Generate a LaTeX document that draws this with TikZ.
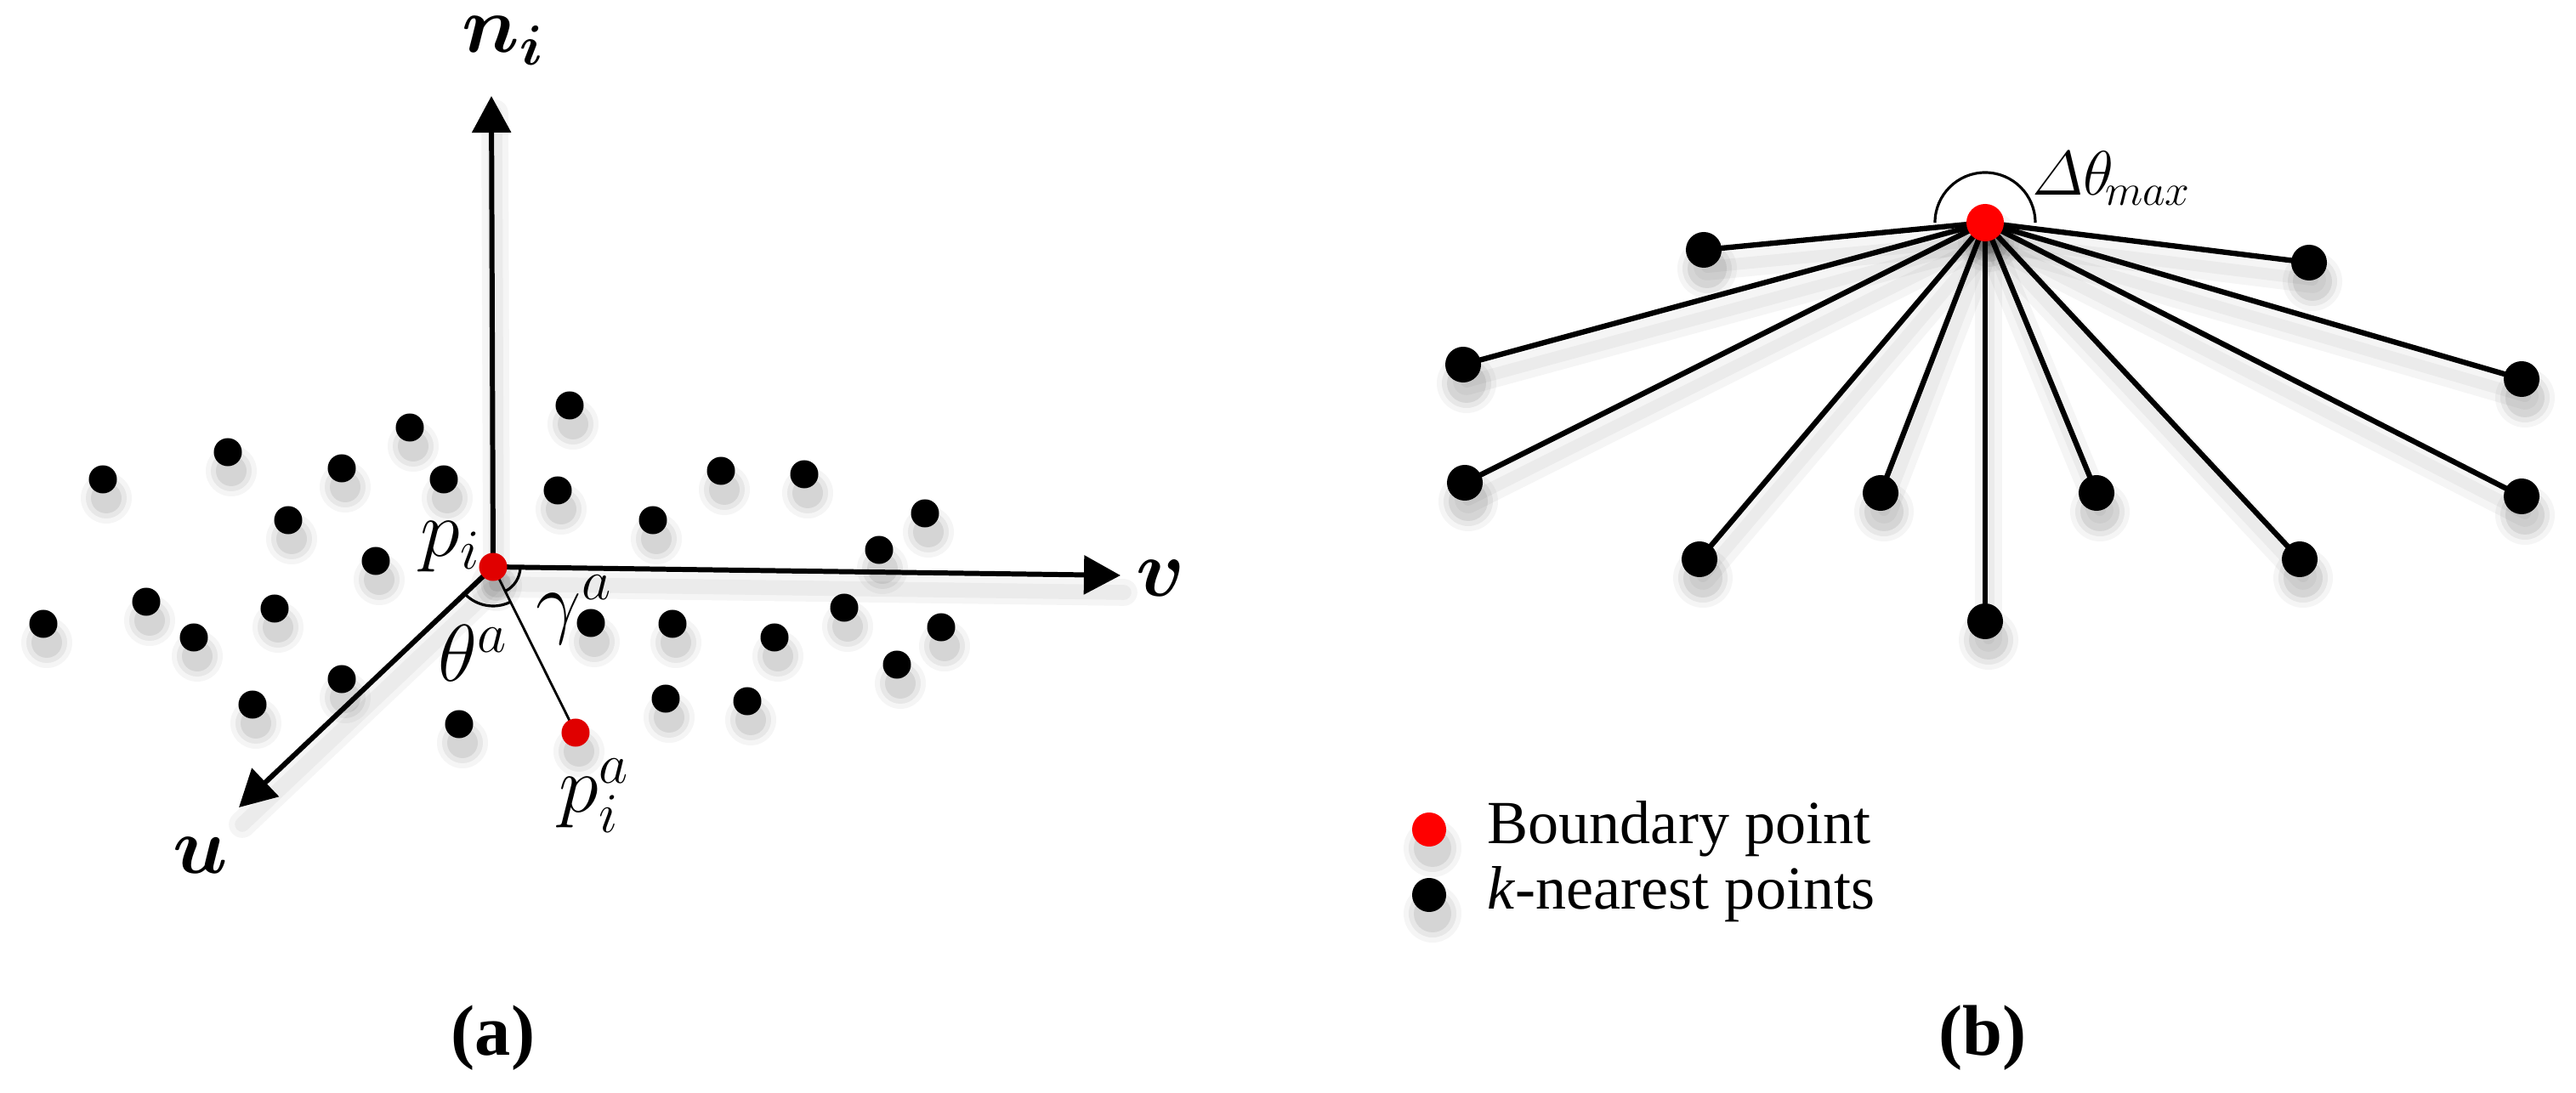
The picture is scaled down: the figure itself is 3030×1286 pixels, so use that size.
\RequirePackage{fix-cm}
\documentclass[tikz,border=0pt]{standalone}
\usepackage{amsmath}
\usepackage{bm}
\usepackage{fontspec}
\setmainfont{Liberation Serif}
\usetikzlibrary{arrows.meta}
\pgfdeclarelayer{shadow}
\pgfdeclarelayer{background}
\pgfsetlayers{shadow,background,main}
\definecolor{redA}{RGB}{224,0,0}
\definecolor{redB}{RGB}{255,0,0}
\newcommand\dotshadow[3]{%
  \fill[black,opacity=0.04] (#1+4,#2+22) circle[radius=#3+14];
  \fill[black,opacity=0.06] (#1+4,#2+22) circle[radius=#3+8];
  \fill[black,opacity=0.08] (#1+4,#2+22) circle[radius=#3+2];}
\tikzset{
  kdot/.style={circle,fill=black,inner sep=0pt,minimum size=0.33cm},
  kdotb/.style={circle,fill=black,inner sep=0pt,minimum size=0.42cm},
  rdot/.style={circle,fill=redA,inner sep=0pt,minimum size=0.33cm},
  rdotb/.style={circle,fill=redB,inner sep=0pt,minimum size=0.44cm},
  axis/.style={line width=1.7pt,-{Triangle[length=0.43cm,width=0.45cm]}},
  thinline/.style={line width=0.8pt},
  spoke/.style={line width=1.8pt},
  anglearc/.style={line width=0.9pt},
  lshadow/.style={black,opacity=0.04,line width=#1,line cap=round,transform canvas={shift={(4,20)}}},
  lab/.style={inner sep=0pt,font=\fontsize{27}{32}\selectfont},
  legtext/.style={inner sep=0pt,font=\fontsize{20.5}{24}\selectfont},
  captext/.style={inner sep=0pt,font=\fontsize{24}{29}\selectfont\bfseries}
}
\begin{document}
\begin{tikzpicture}[x=0.01cm,y=-0.01cm]
\path[use as bounding box] (0,0) rectangle (3030,1286);

% ---------------- panel (a) ----------------
\foreach \x/\y [count=\i] in {670/477,482/503,268/532,402/551,522/564,121/564,656/577,339/612,768/612,848/554,946/558,1088/604,1034/647,442/660,172/708,51/734,228/750,323/716,695/733,791/734,911/750,993/715,1107/738,1055/782,402/799,297/829,540/852,783/822,879/825}{
  \node[kdot] (a\i) at (\x,\y) {};
  \begin{pgfonlayer}{shadow}\dotshadow{\x}{\y}{16}\end{pgfonlayer}
}
\node[rdot] (pi) at (580,667) {};
\node[rdot] (pia) at (677,862) {};
\begin{pgfonlayer}{shadow}\dotshadow{580}{667}{16}\dotshadow{677}{862}{16}\end{pgfonlayer}

\coordinate (ntip) at (578,113);
\coordinate (vtip) at (1318,677);
\coordinate (utip) at (281,950);

\begin{pgfonlayer}{background}
  \foreach \t in {ntip,vtip,utip}{
    \draw[lshadow=9pt] (pi.center) -- (\t);
    \draw[lshadow=5pt] (pi.center) -- (\t);
  }
  \draw[axis] (pi.center) -- (ntip);
  \draw[axis] (pi.center) -- (vtip);
  \draw[axis] (pi.center) -- (utip);
  \draw[thinline] (pi.center) -- (pia.center);
  \draw[anglearc] ([shift={(0.8:32)}]pi.center) arc[start angle=0.8,end angle=63.6,radius=32];
  \draw[anglearc] ([shift={(63.6:46)}]pi.center) arc[start angle=63.6,end angle=136,radius=46];
\end{pgfonlayer}

\node[lab,anchor=base west] (lni) at (543,62) {$\bm{n}_{\bm{i}}$};
\node[lab,anchor=base west] (lv) at (1336,702) {$\bm{v}$};
\node[lab,anchor=center] (lu) at (236,1006) {$\bm{u}$};
\node[lab,anchor=base west] (lpi) at (494,655) {$p_{i}$};
\node[lab,anchor=base west] (ltheta) at (515,802) {$\theta^{a}$};
\node[lab,anchor=base west] (lgamma) at (630,740) {$\gamma^{a}$};
\node[lab,anchor=base west] (lpia) at (657,956) {$p_{i}^{a}$};

% ---------------- panel (b) ----------------
\node[rdotb] (rc) at (2335,262) {};
\foreach \x/\y [count=\i] in {2004/294,2716/309,1721/429,2966/446,1723/568,2966/584,1999/658,2212/580,2466/580,2705/658,2335/731}{
  \node[kdotb] (b\i) at (\x,\y) {};
  \begin{pgfonlayer}{shadow}\dotshadow{\x}{\y}{21}\end{pgfonlayer}
}
\begin{pgfonlayer}{shadow}\dotshadow{2335}{262}{22}\end{pgfonlayer}
\begin{pgfonlayer}{background}
  \foreach \i in {1,...,11}{
    \draw[lshadow=9pt] (rc.center) -- (b\i.center);
    \draw[lshadow=4pt] (rc.center) -- (b\i.center);
    \draw[spoke] (rc.center) -- (b\i.center);
  }
  \draw[anglearc] ([xshift=-0.59cm]rc.center) arc[start angle=180,end angle=360,radius=59];
\end{pgfonlayer}
\node[inner sep=0pt,anchor=base west,font=\fontsize{21}{25}\selectfont] (ldelta) at (2390,230) {$\mathnormal{\Delta}\theta_{\!max}$};

% legend
\node[rdotb,minimum size=0.40cm] (legr) at (1681,976) {};
\node[kdotb,minimum size=0.40cm] (legk) at (1681,1053) {};
\begin{pgfonlayer}{shadow}\dotshadow{1681}{976}{20}\dotshadow{1681}{1053}{20}\end{pgfonlayer}
\node[legtext,anchor=base west] (lega) at (1749,993) {Boundary point};
\node[legtext,anchor=base west] (legb) at (1749,1070) {\textit{k}-nearest points};

% captions
\node[captext] (capa) at (580,1221) {(a)};
\node[captext] (capb) at (2332,1221) {(b)};
\end{tikzpicture}
\end{document}
